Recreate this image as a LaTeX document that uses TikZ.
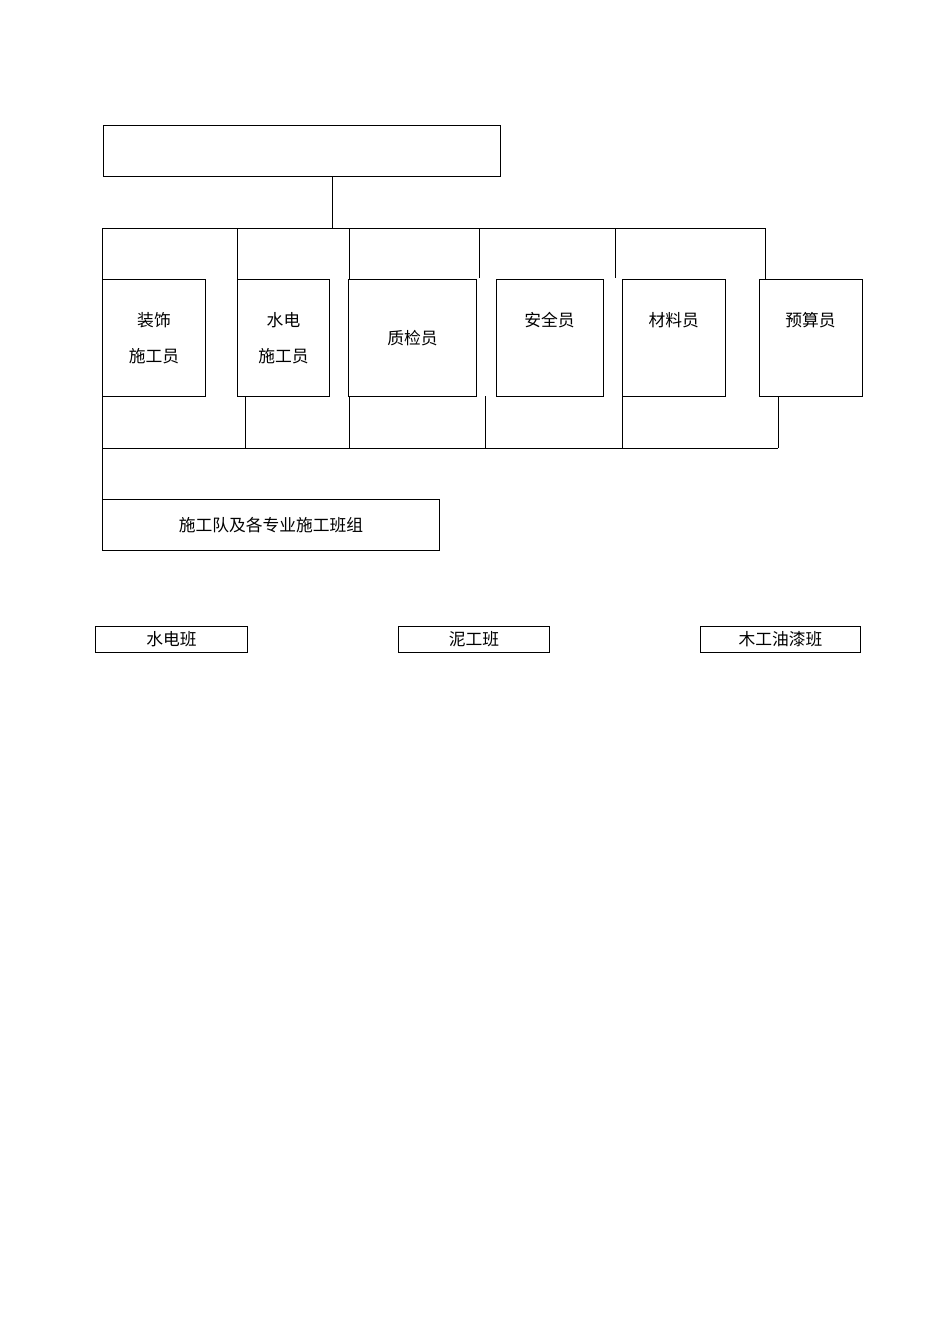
\documentclass[tikz,border=0pt]{standalone}
\usepackage{fontspec}
\newfontfamily\cjk{Noto Sans CJK SC}
\def\u{0.6263pt}
\tikzset{
  box/.style={draw, rectangle, inner sep=0pt, outer sep=0pt, align=center,
    font=\cjk\fontsize{10.5}{22.5}\selectfont},
  tree/.style={line width=0.6pt}
}
\begin{document}
\begin{tikzpicture}[x=\u, y=-\u, line width=0.6pt]
  \useasboundingbox (0,0) rectangle (950,1344);
  % boxes
  \node[box, minimum width=397*\u, minimum height=51*\u] (top) at (301.5,150.5) {};
  \node[box, minimum width=103*\u, minimum height=116.5*\u] (zs) at (154,337.75) {装饰\\施工员};
  \node[box, minimum width=92*\u, minimum height=116.5*\u] (sd) at (283.5,337.75) {水电\\施工员};
  \node[box, minimum width=128*\u, minimum height=116.5*\u] (zj) at (412.5,337.75) {质检员};
  \node[box, minimum width=107*\u, minimum height=116.5*\u] (aq) at (549.5,337.75) {安全员\\~};
  \node[box, minimum width=103.5*\u, minimum height=116.5*\u] (cl) at (673.75,337.75) {材料员\\~};
  \node[box, minimum width=103*\u, minimum height=116.5*\u] (ys) at (810.5,337.75) {预算员\\~};
  \node[box, minimum width=337*\u, minimum height=51*\u] (team) at (271,525) {施工队及各专业施工班组};
  \node[box, minimum width=152*\u, minimum height=26*\u] (sdb) at (171.5,639) {水电班};
  \node[box, minimum width=151*\u, minimum height=26*\u] (ngb) at (474,639) {泥工班};
  \node[box, minimum width=160*\u, minimum height=26*\u] (mgb) at (780.5,639) {木工油漆班};
  % junctions
  \coordinate (tT) at (332,228);
  \coordinate (t0) at (102.5,228);
  \coordinate (t1) at (237.5,228);
  \coordinate (t2) at (349,228);
  \coordinate (t3) at (479,228);
  \coordinate (t4) at (615,228);
  \coordinate (t5) at (765,228);
  \coordinate (g3) at (479,278);
  \coordinate (g4) at (615,278);
  \coordinate (u0) at (102.5,448);
  \coordinate (u1) at (245,448);
  \coordinate (u2) at (349,448);
  \coordinate (u3) at (485,448);
  \coordinate (u4) at (622,448);
  \coordinate (u5) at (778,448);
  \coordinate (h3) at (485,396);
  \begin{scope}[tree]
    \draw (tT |- top.south) to (tT);
    \draw (t0) to (t5);
    \draw (t0) to (zs.north west);
    \draw (t1) to (sd.north west);
    \draw (t2) to (t2 |- zj.north);
    \draw (t3) to (g3);
    \draw (t4) to (g4);
    \draw (t5) to (t5 |- ys.north);
    \draw (u0) to (u5);
    \draw (zs.south west) to (team.north west);
    \draw (u1 |- sd.south) to (u1);
    \draw (u2 |- zj.south) to (u2);
    \draw (h3) to (u3);
    \draw (cl.south west) to (u4);
    \draw (u5 |- ys.south) to (u5);
  \end{scope}
\end{tikzpicture}
\end{document}
